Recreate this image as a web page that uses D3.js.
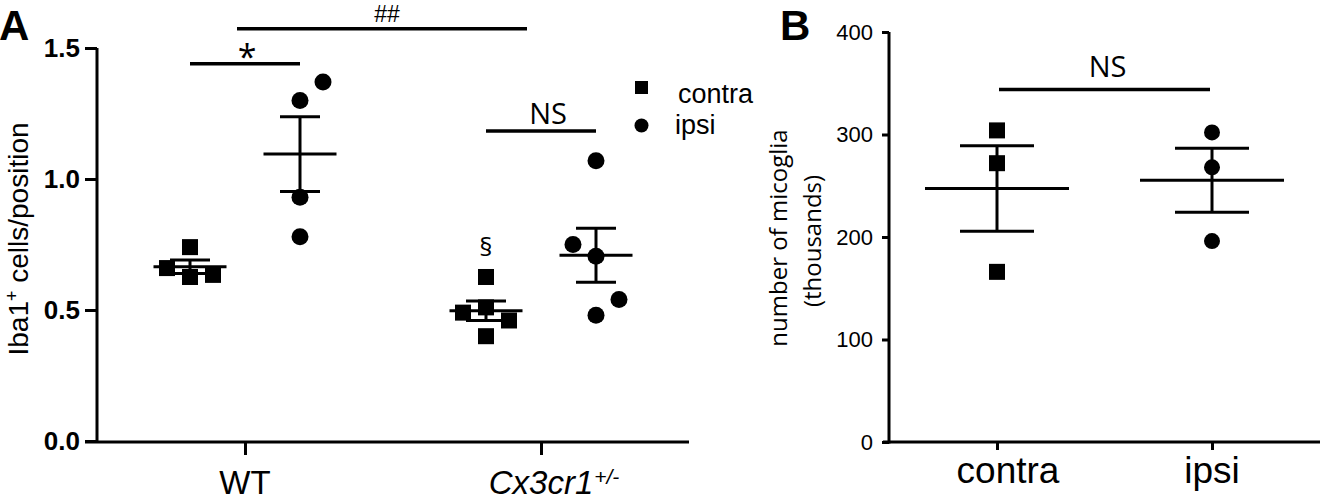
<!DOCTYPE html>
<html>
<head>
<meta charset="utf-8">
<script src="https://cdn.jsdelivr.net/npm/d3@7"></script>
<style>
  html, body { margin: 0; padding: 0; background: #fff; }
  svg { display: block; }
</style>
</head>
<body>
<svg id="chart" width="1320" height="500"></svg>
<script>
// ---------------- DATA ----------------
// Panel A: Iba1+ cells/position
const groupsA = ["WT", "Cx3cr1"];
const sidesA = ["contra", "ipsi"];
const wtContra = [0.74, 0.66, 0.626, 0.634];
const wtIpsi = [1.37, 1.30, 0.93, 0.78];
const cxContra = [0.626, 0.49, 0.51, 0.46, 0.40];
const cxIpsi = [1.07, 0.75, 0.705, 0.54, 0.48];
const ticksA = [0, 0.5, 1.0, 1.5];

// Panel B: number of microglia (thousands)
const groupsB = ["contra", "ipsi"];
const bContra = [304, 272, 166];
const bIpsi = [302, 268, 196];
const ticksB = [0, 100, 200, 300, 400];

// Significance annotations
const sigLabels = ["*", "##", "NS", "§", "NS"];
const sigLevelsA = [1.44, 1.573, 1.183];
const sigLevelB = 344;

// ---------------- HELPERS ----------------
const svg = d3.select("#chart");
const BLACK = "#000";
const ARIAL = "'Liberation Sans', Arial, sans-serif";

function mean(v) { return d3.mean(v); }
function sem(v) { return d3.deviation(v) / Math.sqrt(v.length); }

// Prism-like scatter layout: sorted ascending, collided points pushed to alternating sides
function scatterOffsets(values, yScale, step, thresh) {
  const order = values.map((v, i) => i).sort((a, b) => values[a] - values[b]);
  const slots = new Map();
  const res = new Array(values.length);
  let count = 0;
  for (const i of order) {
    const py = yScale(values[i]);
    const free = s => (slots.get(s) || []).every(q => Math.abs(q - py) >= thresh);
    let s = 0;
    if (!free(0)) {
      const side = count % 2 === 0 ? 1 : -1;
      count++;
      let k = 1;
      while (true) {
        if (free(side * k)) { s = side * k; break; }
        if (free(-side * k)) { s = -side * k; break; }
        k++;
      }
    }
    slots.set(s, [...(slots.get(s) || []), py]);
    res[i] = s * step;
  }
  return res;
}

function errorBar(g, cx, values, yScale, meanHalf, capHalf) {
  const m = mean(values), e = sem(values);
  g.append("line").attr("x1", cx - meanHalf).attr("x2", cx + meanHalf)
    .attr("y1", yScale(m)).attr("y2", yScale(m));
  g.append("line").attr("x1", cx - capHalf).attr("x2", cx + capHalf)
    .attr("y1", yScale(m + e)).attr("y2", yScale(m + e));
  g.append("line").attr("x1", cx - capHalf).attr("x2", cx + capHalf)
    .attr("y1", yScale(m - e)).attr("y2", yScale(m - e));
  g.append("line").attr("x1", cx).attr("x2", cx)
    .attr("y1", yScale(m + e)).attr("y2", yScale(m - e));
}

function drawPoints(g, cx, values, yScale, shape, size, step, thresh) {
  const offs = scatterOffsets(values, yScale, step, thresh);
  values.forEach((v, i) => {
    const x = cx + offs[i], y = yScale(v);
    if (shape === "square") {
      g.append("rect").attr("x", x - size / 2).attr("y", y - size / 2)
        .attr("width", size).attr("height", size).attr("fill", BLACK);
    } else {
      g.append("circle").attr("cx", x).attr("cy", y).attr("r", size / 2).attr("fill", BLACK);
    }
  });
}

// ---------------- PANEL A ----------------
const yA = d3.scaleLinear().domain([0, 1.5]).range([441, 48]);
const xA = d3.scalePoint().domain(groupsA).range([245, 541]);
const subA = d3.scalePoint().domain(sidesA).range([-55, 55]);
const dataA = { WT: { contra: wtContra, ipsi: wtIpsi }, Cx3cr1: { contra: cxContra, ipsi: cxIpsi } };

const gA = svg.append("g");

// y axis
const yAxisA = d3.axisLeft(yA).tickValues(ticksA).tickFormat(d3.format(".1f"))
  .tickSize(12).tickSizeOuter(0).tickPadding(5);
const gyA = gA.append("g").attr("transform", "translate(97,0)").call(yAxisA);
gyA.selectAll("path, line").attr("stroke", BLACK).attr("stroke-width", 3);
gyA.select(".domain").attr("d", `M0,${yA(0) + 1.5}V${yA(1.5)}`);
gyA.selectAll("text").attr("fill", BLACK)
  .style("font-family", ARIAL).style("font-weight", "bold").style("font-size", "26px");

// x axis
const xAxisA = d3.axisBottom(xA).tickSize(13).tickSizeOuter(0).tickFormat("");
const gxA = gA.append("g").attr("transform", "translate(0,442)").call(xAxisA);
gxA.selectAll("path, line").attr("stroke", BLACK).attr("stroke-width", 3);
gxA.select(".domain").attr("d", "M85,0H689");

// x labels
gA.append("text").attr("x", xA("WT")).attr("y", 494).attr("text-anchor", "middle")
  .style("font-family", ARIAL).style("font-size", "33px").text("WT");
const cxLab = gA.append("text").attr("x", xA("Cx3cr1")).attr("y", 494).attr("text-anchor", "middle")
  .style("font-family", ARIAL).style("font-size", "33px").style("font-style", "italic").text("Cx3cr1");
const cxW = cxLab.node().getComputedTextLength();
gA.append("text").attr("x", xA("Cx3cr1") + cxW / 2 + 1).attr("y", 484)
  .style("font-family", ARIAL).style("font-size", "21px").style("font-style", "italic").text("+/-");

// y label
const ylabA = gA.append("text").attr("transform", "translate(28,239) rotate(-90)")
  .attr("text-anchor", "middle").style("font-family", ARIAL).style("font-size", "28px");
ylabA.append("tspan").text("Iba1");
ylabA.append("tspan").attr("dy", -10).style("font-size", "18px").text("+");
ylabA.append("tspan").attr("dy", 10).text(" cells/position");

// panel letter
svg.append("text").attr("x", -1).attr("y", 40)
  .style("font-family", ARIAL).style("font-weight", "bold").style("font-size", "42px").text("A");

// error bars + points
const gMarksA = gA.append("g").attr("stroke", BLACK).attr("stroke-width", 3);
groupsA.forEach(gname => {
  sidesA.forEach(side => {
    const cx = xA(gname) + subA(side);
    const vals = dataA[gname][side];
    drawPoints(gA, cx, vals, yA, side === "contra" ? "square" : "circle", side === "contra" ? 16 : 17, 23, 26);
    errorBar(gMarksA, cx, vals, yA, 36.5, 20);
  });
});

// significance annotations A
const sigFont = "'Open Sans', 'DejaVu Sans', sans-serif";
const gSig = svg.append("g");
gSig.append("line").attr("x1", xA("WT") + subA("contra")).attr("x2", xA("WT") + subA("ipsi"))
  .attr("y1", yA(sigLevelsA[0])).attr("y2", yA(sigLevelsA[0]))
  .attr("stroke", BLACK).attr("stroke-width", 3.5);
gSig.append("text").attr("x", xA("WT") + 2).attr("y", yA(sigLevelsA[0]) + 5).attr("text-anchor", "middle")
  .style("font-family", sigFont).style("font-size", "34px").text(sigLabels[0]);

gSig.append("line").attr("x1", xA("WT") - 8).attr("x2", xA("Cx3cr1") - 14)
  .attr("y1", yA(sigLevelsA[1])).attr("y2", yA(sigLevelsA[1]))
  .attr("stroke", BLACK).attr("stroke-width", 3.5);
gSig.append("text").attr("x", (xA("WT") + xA("Cx3cr1")) / 2 - 6).attr("y", 22).attr("text-anchor", "middle")
  .style("font-family", ARIAL).style("font-size", "23px").text(sigLabels[1]);

gSig.append("line").attr("x1", xA("Cx3cr1") + subA("contra")).attr("x2", xA("Cx3cr1") + subA("ipsi"))
  .attr("y1", yA(sigLevelsA[2])).attr("y2", yA(sigLevelsA[2]))
  .attr("stroke", BLACK).attr("stroke-width", 3.5);
gSig.append("text").attr("x", xA("Cx3cr1") + 7).attr("y", 124).attr("text-anchor", "middle")
  .style("font-family", sigFont).style("font-size", "29px").text(sigLabels[2]);

gSig.append("text").attr("x", xA("Cx3cr1") + subA("contra")).attr("y", 256).attr("text-anchor", "middle")
  .style("font-family", sigFont).style("font-size", "26px").text(sigLabels[3]);

// legend
const gLeg = svg.append("g");
gLeg.append("rect").attr("x", 635).attr("y", 81).attr("width", 13).attr("height", 13).attr("fill", BLACK);
gLeg.append("circle").attr("cx", 641.5).attr("cy", 125.5).attr("r", 7).attr("fill", BLACK);
gLeg.append("text").attr("x", 678).attr("y", 103)
  .style("font-family", ARIAL).style("font-size", "27px").text(sidesA[0]);
gLeg.append("text").attr("x", 675).attr("y", 134)
  .style("font-family", ARIAL).style("font-size", "27px").text(sidesA[1]);

// ---------------- PANEL B ----------------
const yB = d3.scaleLinear().domain([0, 400]).range([442, 32]);
const xB = d3.scalePoint().domain(groupsB).range([997, 1212]);
const dataB = { contra: bContra, ipsi: bIpsi };
const gB = svg.append("g");

const yAxisB = d3.axisLeft(yB).tickValues(ticksB).tickFormat(d3.format("d"))
  .tickSize(7).tickSizeOuter(0).tickPadding(9);
const gyB = gB.append("g").attr("transform", "translate(889,0)").call(yAxisB);
gyB.selectAll("path, line").attr("stroke", BLACK).attr("stroke-width", 3);
gyB.select(".domain").attr("d", `M0,${yB(0) + 1.5}V${yB(400)}`);
gyB.selectAll("text").attr("fill", BLACK).style("font-family", ARIAL).style("font-size", "22px");

const xAxisB = d3.axisBottom(xB).tickSize(8).tickSizeOuter(0).tickFormat("");
const gxB = gB.append("g").attr("transform", "translate(0,442)").call(xAxisB);
gxB.selectAll("path, line").attr("stroke", BLACK).attr("stroke-width", 3);
gxB.select(".domain").attr("d", "M883,0H1320");

groupsB.forEach(gname => {
  gB.append("text").attr("x", xB(gname) + (gname === "contra" ? 11 : 0)).attr("y", 483)
    .attr("text-anchor", "middle").style("font-family", ARIAL).style("font-size", "37px")
    .text(gname);
});

const ylabB = gB.append("g").style("font-family", "'Open Sans', sans-serif").style("font-size", "24px");
ylabB.append("text").attr("transform", "translate(787,238) rotate(-90)").attr("text-anchor", "middle")
  .text("number of micoglia");
ylabB.append("text").attr("transform", "translate(821,241) rotate(-90)").attr("text-anchor", "middle")
  .text("(thousands)");

svg.append("text").attr("x", 780).attr("y", 40)
  .style("font-family", ARIAL).style("font-weight", "bold").style("font-size", "42px").text("B");

const gMarksB = gB.append("g").attr("stroke", BLACK).attr("stroke-width", 3);
groupsB.forEach(gname => {
  const cx = xB(gname);
  drawPoints(gB, cx, dataB[gname], yB, gname === "contra" ? "square" : "circle", 16, 23, 26);
  errorBar(gMarksB, cx, dataB[gname], yB, 72, 37);
});

gSig.append("line").attr("x1", xB("contra") + 2).attr("x2", xB("ipsi") - 2)
  .attr("y1", yB(sigLevelB)).attr("y2", yB(sigLevelB))
  .attr("stroke", BLACK).attr("stroke-width", 3.5);
gSig.append("text").attr("x", (xB("contra") + xB("ipsi")) / 2 + 3).attr("y", 77).attr("text-anchor", "middle")
  .style("font-family", sigFont).style("font-size", "29px").text(sigLabels[4]);
</script>
</body>
</html>
